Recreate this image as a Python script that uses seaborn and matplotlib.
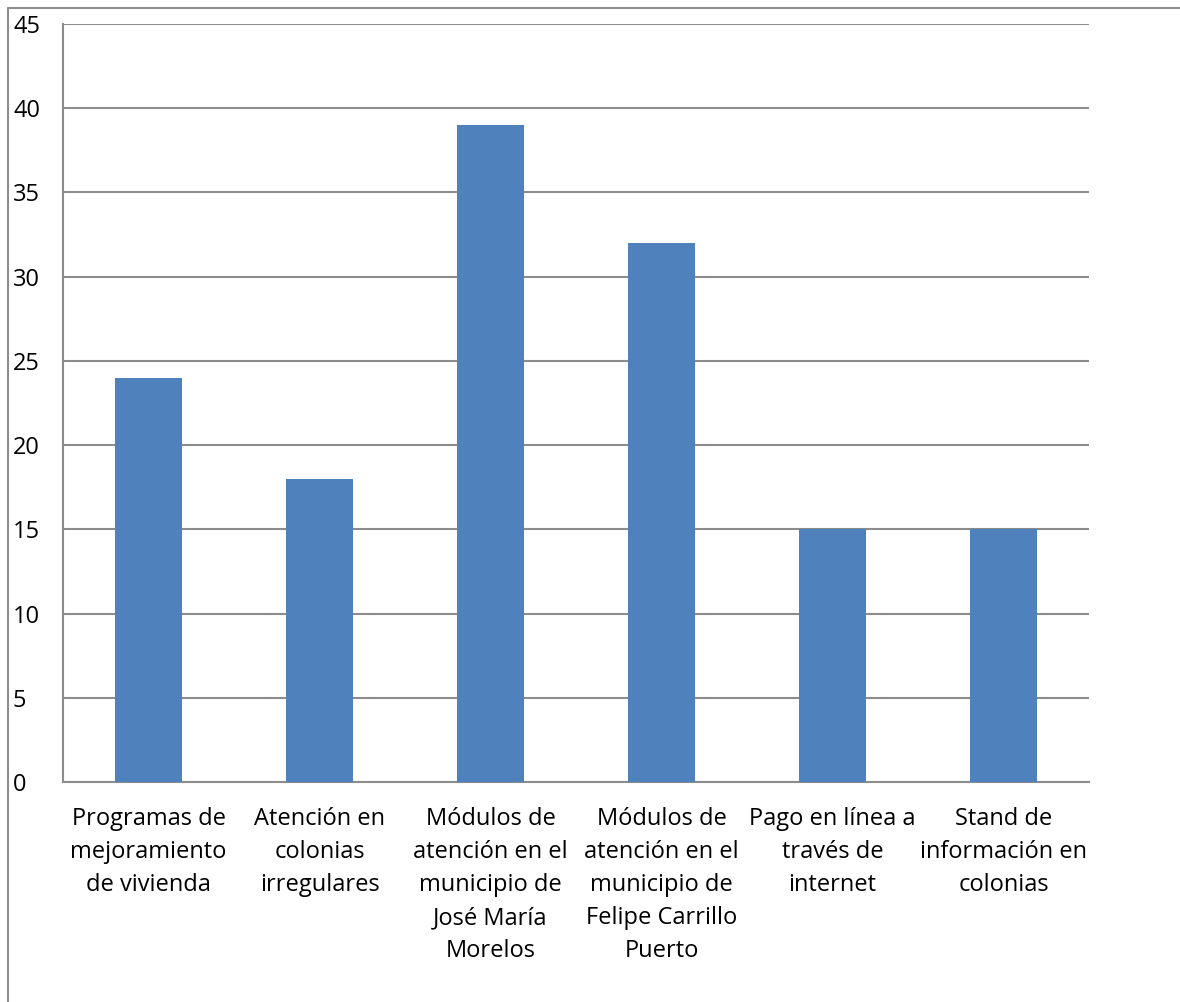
import pandas as pd
import numpy as np
import seaborn as sns
import matplotlib.pyplot as plt
from matplotlib.lines import Line2D

categorias = [
    'Programas de\nmejoramiento\nde vivienda',
    'Atención en\ncolonias\nirregulares',
    'Módulos de\natención en el\nmunicipio de\nJosé María\nMorelos',
    'Módulos de\natención en el\nmunicipio de\nFelipe Carrillo\nPuerto',
    'Pago en línea a\ntravés de\ninternet',
    'Stand de\ninformación en\ncolonias',
]
valores = [24, 18, 39, 32, 15, 15]
yticks = [0, 5, 10, 15, 20, 25, 30, 35, 40, 45]

df = pd.DataFrame({'categoria': categorias, 'valor': valores})

sns.set_style('white')
plt.rcParams['font.family'] = ['Open Sans', 'DejaVu Sans']

fig = plt.figure(figsize=(11.8, 10.02), dpi=100)
ax = fig.add_axes([63 / 1180, 1 - 782 / 1002, 1026 / 1180, 758 / 1002])

# barras
sns.barplot(data=df, x='categoria', y='valor', color='#4F81BD', saturation=1,
            width=0.39, edgecolor='none', linewidth=0, ax=ax, zorder=3)

ax.set_ylim(0, 45)
ax.set_yticks(yticks)
ax.yaxis.grid(True, color='#8C8C8C', linewidth=1.5, zorder=0)
ax.set_xlabel('')
ax.set_ylabel('')

for side in ['top', 'right']:
    ax.spines[side].set_visible(False)
for side in ['left', 'bottom']:
    ax.spines[side].set_color('#8C8C8C')
    ax.spines[side].set_linewidth(1.5)

ax.tick_params(axis='both', length=0, labelsize=17, colors='black')
ax.tick_params(axis='y', pad=36)
for lbl in ax.get_yticklabels():
    lbl.set_horizontalalignment('left')
ax.tick_params(axis='x', pad=18)
for lbl in ax.get_xticklabels():
    lbl.set_linespacing(1.5)
    lbl.set_verticalalignment('top')

# marco exterior
fig.add_artist(Line2D([7.5 / 1180, 7.5 / 1180], [0, 1 - 7.5 / 1002],
                      transform=fig.transFigure, color='#8C8C8C', linewidth=1.5))
fig.add_artist(Line2D([7.5 / 1180, 1], [1 - 7.5 / 1002, 1 - 7.5 / 1002],
                      transform=fig.transFigure, color='#8C8C8C', linewidth=1.5))

plt.savefig('out.png', dpi=100)
